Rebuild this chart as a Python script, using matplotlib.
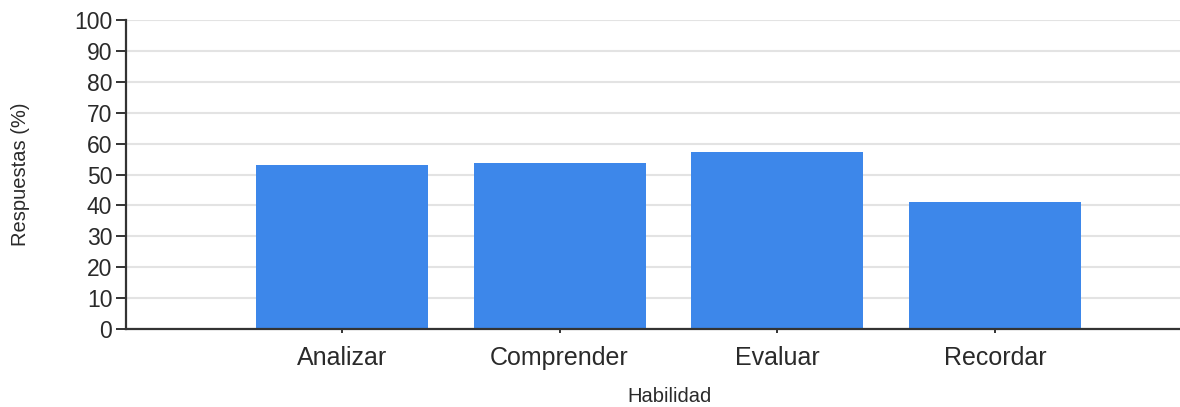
import matplotlib.pyplot as plt
import numpy as np

# datos
habilidades = ['Analizar', 'Comprender', 'Evaluar', 'Recordar']
respuestas = [53.1, 53.6, 57.2, 41.1]
y_ticks = list(range(0, 101, 10))

plt.rcParams['font.family'] = ['Liberation Sans', 'DejaVu Sans']

fig = plt.figure(figsize=(11.8, 4.07), dpi=100)
ax = fig.add_axes([0.107, 0.192, 0.893, 0.758])

x = np.arange(len(habilidades))
ax.bar(x, respuestas, width=0.79, color='#3d87ea', zorder=2)

ax.set_ylim(0, 100)
ax.set_xlim(-0.99, 3.85)
ax.set_yticks(y_ticks)
ax.set_xticks(x)
ax.set_xticklabels(habilidades)

# grid horizontal gris claro
ax.yaxis.grid(True, color='#e3e3e3', linewidth=1.5, zorder=0)
ax.set_axisbelow(True)

for s in ['top', 'right']:
    ax.spines[s].set_visible(False)
ax.spines['left'].set_color('#333333')
ax.spines['bottom'].set_color('#333333')
ax.spines['left'].set_linewidth(1.6)
ax.spines['bottom'].set_linewidth(1.6)

ax.tick_params(axis='y', length=7, width=1.4, color='#333333', labelsize=16.5,
               labelcolor='#2a2a2a', pad=3)
ax.tick_params(axis='x', length=3, width=1.4, color='#333333', labelsize=18,
               labelcolor='#2a2a2a', pad=9)

ax.set_ylabel('Respuestas (%)', fontsize=14.5, color='#2a2a2a')
ax.yaxis.set_label_coords(-0.091, 0.5)
ax.set_xlabel('Habilidad', fontsize=14.5, color='#2a2a2a')
ax.xaxis.set_label_coords(0.516, -0.19)

plt.savefig('out.png', dpi=100)
plt.close()
